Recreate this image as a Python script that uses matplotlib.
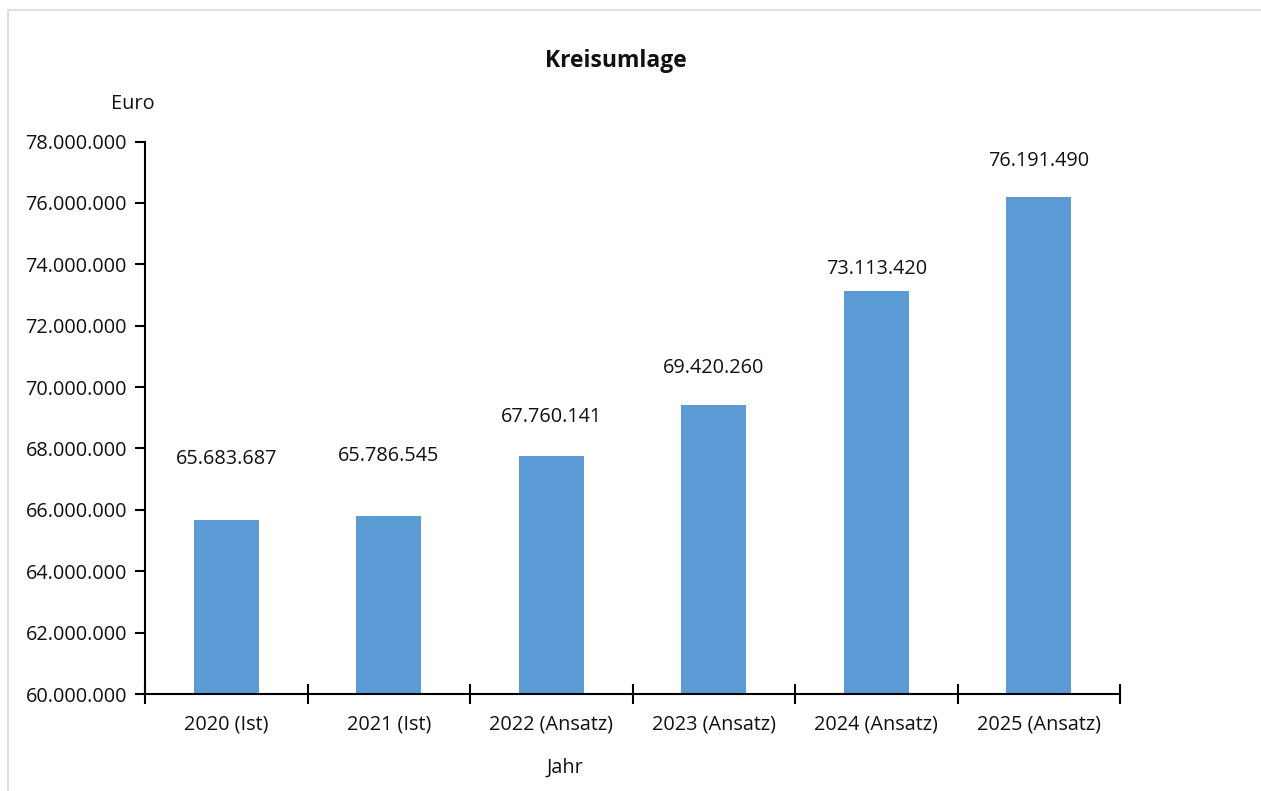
import matplotlib
matplotlib.use("Agg")
import matplotlib.pyplot as plt
from matplotlib.patches import Rectangle
from matplotlib.ticker import FuncFormatter, MultipleLocator

categories = ["2020 (Ist)", "2021 (Ist)", "2022 (Ansatz)", "2023 (Ansatz)", "2024 (Ansatz)", "2025 (Ansatz)"]
values = [65683687, 65786545, 67760141, 69420260, 73113420, 76191490]
# vertical label offsets above bar tops, in pixels (as in the reference)
label_offsets_px = [61, 60, 39, 37, 22, 36]

plt.rcParams['font.family'] = ['Open Sans', 'DejaVu Sans']

W, H = 1261, 791
dpi = 100
fig = plt.figure(figsize=(W / dpi, H / dpi), dpi=dpi)

# light frame (left and top visible)
fig.patches.append(Rectangle((8 / W, -0.1), 1.2, (H - 10) / H + 0.1, transform=fig.transFigure,
                             fill=False, edgecolor='#d9d9d9', linewidth=1.2))

ax_l, ax_r, ax_t, ax_b = 145, 1120, 141.5, 694
ax = fig.add_axes([ax_l / W, 1 - ax_b / H, (ax_r - ax_l) / W, (ax_b - ax_t) / H])

x = list(range(len(categories)))
ax.bar(x, values, width=0.4, color='#5b9bd5', zorder=2)
ax.set_xlim(-0.5, len(categories) - 0.5)
ax.set_ylim(60000000, 78000000)
ax.yaxis.set_major_locator(MultipleLocator(2000000))

def de_fmt(v, pos=None):
    return f"{int(round(v)):,}".replace(",", ".")

fs = 14.3
ax.yaxis.set_major_formatter(FuncFormatter(de_fmt))
ax.set_xticks([i - 0.5 for i in range(len(categories) + 1)])
ax.set_xticklabels([])
ax.set_xticks(x, minor=True)
ax.set_xticklabels(categories, minor=True, fontsize=fs, color='#111111')
ax.tick_params(axis='x', which='minor', length=0, pad=15)
ax.tick_params(axis='x', which='major', direction='inout', length=14, width=1.5)
ax.tick_params(axis='y', direction='out', length=7, width=1.5, labelsize=fs, pad=6,
               labelcolor='#111111')

for side in ['top', 'right']:
    ax.spines[side].set_visible(False)
for side in ['left', 'bottom']:
    ax.spines[side].set_linewidth(1.5)
ax.set_facecolor('none')

for xi, v, off in zip(x, values, label_offsets_px):
    ax.annotate(de_fmt(v), xy=(xi, v), xytext=(0, off * 72 / dpi), textcoords='offset points',
                ha='center', va='center', fontsize=fs, color='#111111')

fig.text(616 / W, 1 - 61 / H, "Kreisumlage", ha='center', va='center', fontsize=16.5,
         fontweight='bold', color='#111111')
fig.text(133 / W, 1 - 104 / H, "Euro", ha='center', va='center', fontsize=fs, color='#111111')
fig.text(565 / W, 1 - 768 / H, "Jahr", ha='center', va='center', fontsize=fs, color='#111111')

fig.savefig("out.png", dpi=dpi, facecolor='white')
